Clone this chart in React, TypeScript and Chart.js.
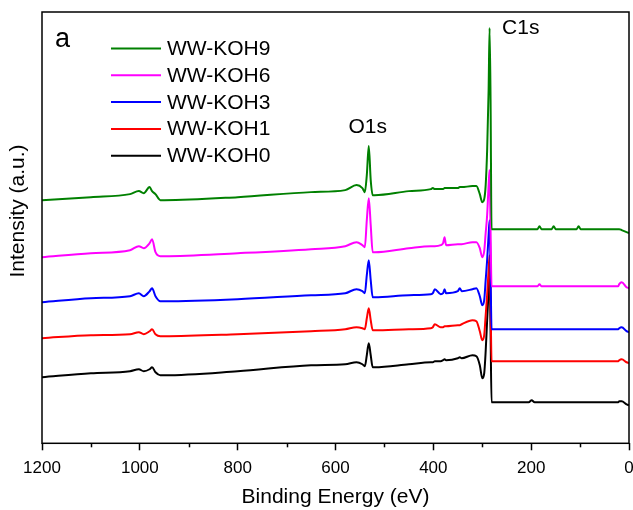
import React, { useEffect, useRef } from "react";
import { Chart, registerables } from "chart.js";

Chart.register(...registerables);

// Binding energies (eV), shared sampling grid for all spectra
const energies = [
  1200, 1100, 1020, 1002, 992, 980, 975, 968, 958, 950,
  800, 650, 580, 557, 545, 540, 536, 532, 528, 524,
  520, 450, 405, 401, 397, 385, 380, 377, 374, 350,
  346, 342, 320, 312, 305, 300, 296, 293, 290, 287,
  285, 283, 281, 278, 250, 205, 199, 193, 187, 183,
  179, 158, 154, 150, 107, 103, 99, 50, 22, 20,
  15, 5, 0,
];

// Intensities (a.u., stacked with offsets as in the figure)
const koh9 = [
  243, 246, 249, 252, 250, 256, 252, 249, 243, 243,
  246, 251, 253, 258, 255, 251, 268, 297, 263, 248,
  248, 252, 254, 255, 254, 254, 254, 255, 255, 255,
  256, 256, 257, 257, 249, 241, 244, 258, 293, 353,
  415, 343, 214, 214, 214, 214, 214, 214, 214, 217,
  214, 214, 217, 214, 214, 217, 214, 214, 214, 214,
  213, 211, 210,
];
const koh6 = [
  186, 190, 193, 197, 195, 200, 204, 191, 187, 187,
  190, 194, 197, 201, 198, 196, 223, 245, 218, 191,
  191, 195, 197, 197, 197, 198, 200, 206, 198, 199,
  199, 199, 201, 201, 195, 186, 192, 210, 228, 258,
  273, 213, 157, 157, 157, 157, 157, 157, 157, 159,
  157, 157, 157, 157, 157, 157, 157, 157, 157, 159,
  161, 156, 155,
];
const koh3 = [
  141, 145, 147, 150, 147, 152, 155, 147, 142, 142,
  144, 148, 150, 154, 152, 150, 168, 183, 163, 146,
  146, 148, 149, 150, 154, 149, 150, 154, 150, 152,
  155, 152, 154, 155, 147, 138, 143, 163, 183, 208,
  223, 173, 114, 114, 114, 114, 114, 114, 114, 114,
  114, 114, 114, 114, 114, 114, 114, 114, 114, 115,
  116, 112, 111,
];
const koh1 = [
  105, 108, 109, 111, 109, 112, 114, 109, 107, 107,
  109, 112, 114, 116, 115, 114, 125, 135, 123, 113,
  113, 114, 115, 116, 119, 116, 116, 117, 117, 118,
  118, 119, 123, 122, 112, 103, 108, 128, 148, 173,
  188, 143, 82, 82, 82, 82, 82, 82, 82, 82,
  82, 82, 82, 82, 82, 82, 82, 82, 82, 83,
  84, 81, 80,
];
const koh0 = [
  66, 70, 72, 74, 72, 74, 76, 71, 68, 68,
  72, 78, 79, 81, 79, 77, 88, 100, 88, 76,
  76, 79, 81, 81, 82, 82, 83, 84, 83, 85,
  86, 85, 88, 87, 78, 65, 70, 92, 123, 153,
  173, 113, 41, 41, 41, 41, 43, 41, 41, 41,
  41, 41, 41, 41, 41, 41, 41, 41, 41, 42,
  42, 39, 38,
];

const seriesLabels = ["WW-KOH9", "WW-KOH6", "WW-KOH3", "WW-KOH1", "WW-KOH0"];
const seriesColors = ["#008000", "#ff00ff", "#0000ff", "#ff0000", "#000000"];
const seriesValues = [koh9, koh6, koh3, koh1, koh0];

const majorTicks = [1200, 1000, 800, 600, 400, 200, 0];
const minorTicks = [1100, 900, 700, 500, 300, 100];

const panelLabel = "a";
const peakLabels = [
  { text: "O1s", energy: 532 },
  { text: "C1s", energy: 285 },
];
const xTitle = "Binding Energy (eV)";
const yTitle = "Intensity (a.u.)";

const FONT = "'Liberation Sans', Arial, Helvetica, sans-serif";

const decorPlugin = {
  id: "decor",
  afterDraw(chart: any) {
    const { ctx, chartArea: ca, scales } = chart;
    const xs = scales.x;
    ctx.save();
    // frame
    ctx.strokeStyle = "#000";
    ctx.lineWidth = 1.5;
    ctx.strokeRect(ca.left, ca.top, ca.right - ca.left, ca.bottom - ca.top);
    // minor ticks
    for (const v of minorTicks) {
      const px = Math.round(xs.getPixelForValue(v)) + 0.5;
      ctx.beginPath();
      ctx.moveTo(px, ca.bottom);
      ctx.lineTo(px, ca.bottom + 4);
      ctx.stroke();
    }
    // legend
    ctx.font = `21px ${FONT}`;
    ctx.textAlign = "left";
    ctx.textBaseline = "alphabetic";
    chart.data.datasets.forEach((ds: any, i: number) => {
      const base = ca.top + 43 + i * 26.8;
      ctx.strokeStyle = ds.borderColor;
      ctx.lineWidth = 2;
      ctx.beginPath();
      ctx.moveTo(ca.left + 69, base - 6.5);
      ctx.lineTo(ca.left + 119, base - 6.5);
      ctx.stroke();
      ctx.fillStyle = "#000";
      ctx.fillText(ds.label, ca.left + 125, base);
    });
    // panel label
    ctx.font = `27px ${FONT}`;
    ctx.fillText(panelLabel, ca.left + 13, ca.top + 35);
    // peak labels
    ctx.font = `21px ${FONT}`;
    const o = peakLabels[0];
    ctx.textAlign = "center";
    ctx.fillText(o.text, xs.getPixelForValue(o.energy) - 1, 133);
    const c = peakLabels[1];
    ctx.textAlign = "left";
    ctx.fillText(c.text, xs.getPixelForValue(c.energy) + 12.5, 33.5);
    // y title
    ctx.translate(24, 211);
    ctx.rotate(-Math.PI / 2);
    ctx.textAlign = "center";
    ctx.fillText(yTitle, 0, 0);
    ctx.restore();
  },
};

const whiteBg = {
  id: "whiteBg",
  beforeDraw(chart: any) {
    const { ctx, width, height } = chart;
    ctx.save();
    ctx.fillStyle = "#fff";
    ctx.fillRect(0, 0, width, height);
    ctx.restore();
  },
};

export default function App() {
  const ref = useRef<HTMLCanvasElement | null>(null);

  useEffect(() => {
    if (!ref.current) return;
    Chart.defaults.font.family = FONT;
    const datasets = seriesLabels.map((label, i) => ({
      label,
      data: energies.map((e, j) => ({ x: e, y: seriesValues[i][j] })),
      borderColor: seriesColors[i],
      backgroundColor: seriesColors[i],
      borderWidth: 2,
      pointRadius: 0,
      cubicInterpolationMode: "monotone",
      fill: false,
    }));
    const chart = new Chart(ref.current, {
      type: "line",
      data: { datasets },
      plugins: [whiteBg, decorPlugin],
      options: {
        animation: false,
        responsive: false,
        devicePixelRatio: 1,
        layout: { padding: { left: 42, top: 12, right: 4, bottom: 0 } },
        plugins: {
          legend: { display: false },
          tooltip: { enabled: false },
        },
        scales: {
          x: {
            type: "linear",
            reverse: true,
            min: 0,
            max: 1200,
            afterBuildTicks: (scale: any) => {
              scale.ticks = majorTicks.map((v) => ({ value: v }));
            },
            afterFit: (scale: any) => {
              scale.height = 66.7;
              scale.paddingLeft = 0;
              scale.paddingRight = 0;
            },
            ticks: {
              color: "#000",
              font: { size: 17, family: FONT },
              padding: 8,
              maxRotation: 0,
              autoSkip: false,
              callback: (v: any) => String(v),
            },
            grid: {
              display: true,
              drawOnChartArea: false,
              drawTicks: true,
              tickLength: 7,
              tickWidth: 1.5,
              tickColor: "#000",
            },
            border: { display: false },
            title: {
              display: true,
              text: xTitle,
              color: "#000",
              font: { size: 21, family: FONT },
              padding: { top: 0, bottom: 0 },
            },
          },
          y: {
            display: false,
            min: 0,
            max: 431,
          },
        },
      },
    } as any);
    return () => chart.destroy();
  }, []);

  return (
    <div style={{ position: "absolute", left: 0, top: 0, width: 633, height: 510, background: "#fff" }}>
      <canvas ref={ref} width={633} height={510} style={{ display: "block", width: 633, height: 510 }} />
    </div>
  );
}
